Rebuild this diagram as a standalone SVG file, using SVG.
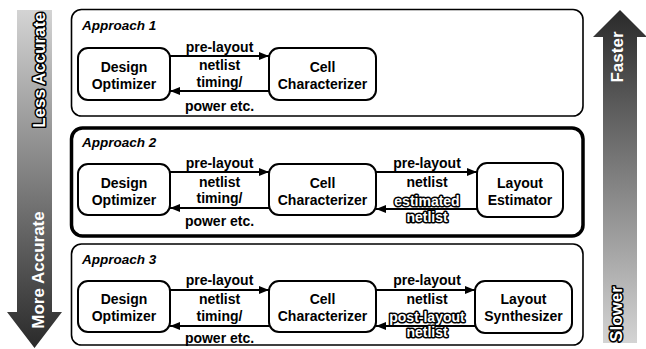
<svg xmlns="http://www.w3.org/2000/svg" width="646" height="349" viewBox="0 0 646 349">
<defs>
<linearGradient id="gDown" x1="0" y1="0" x2="0" y2="1">
<stop offset="0" stop-color="#d4d4d4"/>
<stop offset="1" stop-color="#2a2a2a"/>
</linearGradient>
<linearGradient id="gUp" x1="0" y1="0" x2="0" y2="1">
<stop offset="0" stop-color="#2a2a2a"/>
<stop offset="1" stop-color="#d4d4d4"/>
</linearGradient>
<marker id="ah" markerUnits="userSpaceOnUse" markerWidth="11" markerHeight="8" refX="10" refY="4" orient="auto">
<path d="M0,0 L10,4 L0,8 Z" fill="#000"/>
</marker>
<style>
text{font-family:"Liberation Sans",Arial,sans-serif;font-weight:bold;font-size:14px;fill:#000}
.t{text-anchor:middle}
.ap{font-style:italic;font-size:13.5px}
.side{font-size:17px;fill:#fff;text-anchor:middle}
.ol{fill:#fff;stroke:#000;stroke-width:3;stroke-linejoin:round;paint-order:stroke}
.panel{fill:#fff;stroke:#000;stroke-width:1.6}
.thick{stroke-width:3.5}
.box{fill:#fff;stroke:#000;stroke-width:2}
.c{stroke:#000;stroke-width:2;fill:none;marker-end:url(#ah)}
</style>
</defs>
<rect width="646" height="349" fill="#fff"/>

<g id="accuracy-arrow">
<path d="M17,10 H52 V312 H62 L34.5,348 L7,312 H17 Z" fill="url(#gDown)"/>
<text class="side ol" transform="translate(45,70) rotate(-90)">Less Accurate</text>
<text class="side" transform="translate(44,270) rotate(-90)">More Accurate</text>
</g>

<g id="speed-arrow">
<path d="M603,343 V37 H593 L620,10 L647,37 H637 V343 Z" fill="url(#gUp)"/>
<text class="side" transform="translate(623,57) rotate(-90)">Faster</text>
<text class="side ol" transform="translate(622,314) rotate(-90)">Slower</text>
</g>

<g id="approach1">
<rect class="panel" x="71.5" y="9.5" width="511.5" height="106.5" rx="10"/>
<text class="ap" x="82" y="30">Approach 1</text>
</g>
<g id="approach2">
<rect class="panel thick" x="71.5" y="128" width="511.5" height="108" rx="11"/>
<text class="ap" x="82" y="147">Approach 2</text>
</g>
<g id="approach3">
<rect class="panel" x="71.5" y="244" width="511.5" height="101" rx="10"/>
<text class="ap" x="82" y="264">Approach 3</text>
</g>

<g id="a1-design-optimizer">
<rect class="box" x="78" y="48" width="92" height="52" rx="10"/>
<text class="t" x="124" y="72">Design</text>
<text class="t" x="124" y="89">Optimizer</text>
</g>
<g id="a1-cell-characterizer">
<rect class="box" x="269" y="48" width="107" height="52" rx="10"/>
<text class="t" x="322.5" y="72">Cell</text>
<text class="t" x="322.5" y="89">Characterizer</text>
</g>

<g id="a2-design-optimizer">
<rect class="box" x="78" y="164" width="92" height="51" rx="10"/>
<text class="t" x="124" y="188">Design</text>
<text class="t" x="124" y="205">Optimizer</text>
</g>
<g id="a2-cell-characterizer">
<rect class="box" x="269" y="164" width="107" height="51" rx="10"/>
<text class="t" x="322.5" y="188">Cell</text>
<text class="t" x="322.5" y="205">Characterizer</text>
</g>
<g id="a2-layout-estimator">
<rect class="box" x="477" y="163" width="86" height="54" rx="10"/>
<text class="t" x="520" y="188">Layout</text>
<text class="t" x="520" y="205">Estimator</text>
</g>

<g id="a3-design-optimizer">
<rect class="box" x="78" y="281" width="92" height="51" rx="10"/>
<text class="t" x="124" y="304">Design</text>
<text class="t" x="124" y="321">Optimizer</text>
</g>
<g id="a3-cell-characterizer">
<rect class="box" x="269" y="281" width="107" height="51" rx="10"/>
<text class="t" x="322.5" y="304">Cell</text>
<text class="t" x="322.5" y="321">Characterizer</text>
</g>
<g id="a3-layout-synthesizer">
<rect class="box" x="475" y="281" width="97" height="52" rx="10"/>
<text class="t" x="523.5" y="304">Layout</text>
<text class="t" x="523.5" y="321">Synthesizer</text>
</g>

<g id="connectors">
<line class="c" x1="170" y1="56" x2="269" y2="56"/>
<line class="c" x1="269" y1="91" x2="170" y2="91"/>
<line class="c" x1="170" y1="172" x2="269" y2="172"/>
<line class="c" x1="269" y1="208" x2="170" y2="208"/>
<line class="c" x1="376" y1="172" x2="477" y2="172"/>
<line class="c" x1="477" y1="209" x2="376" y2="209"/>
<line class="c" x1="170" y1="290" x2="269" y2="290"/>
<line class="c" x1="269" y1="326" x2="170" y2="326"/>
<line class="c" x1="376" y1="290" x2="475" y2="290"/>
<line class="c" x1="475" y1="326" x2="376" y2="326"/>

<text class="t" x="219.5" y="52">pre-layout</text>
<text class="t" x="219.5" y="70">netlist</text>
<text class="t" x="219.5" y="87">timing/</text>
<text class="t" x="219.5" y="111">power etc.</text>

<text class="t" x="219.5" y="168">pre-layout</text>
<text class="t" x="219.5" y="187">netlist</text>
<text class="t" x="219.5" y="203">timing/</text>
<text class="t" x="219.5" y="226">power etc.</text>
<text class="t" x="427" y="168">pre-layout</text>
<text class="t" x="427" y="187">netlist</text>
<text class="t ol" x="427" y="206">estimated</text>
<text class="t ol" x="427" y="222">netlist</text>

<text class="t" x="219.5" y="285">pre-layout</text>
<text class="t" x="219.5" y="304">netlist</text>
<text class="t" x="219.5" y="321">timing/</text>
<text class="t" x="219.5" y="343">power etc.</text>
<text class="t" x="427" y="285">pre-layout</text>
<text class="t" x="427" y="304">netlist</text>
<text class="t ol" x="427" y="322">post-layout</text>
<text class="t ol" x="427" y="337">netlist</text>
</g>
</svg>
